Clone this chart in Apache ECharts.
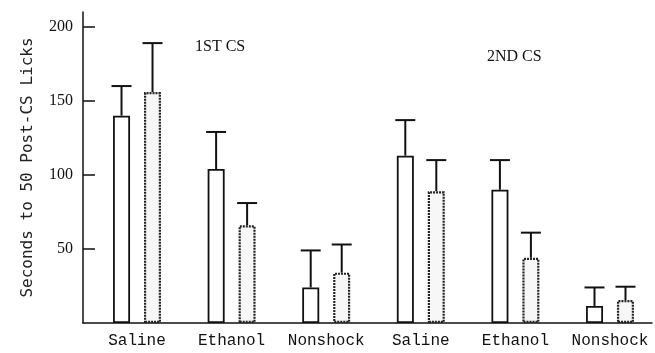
<!DOCTYPE html>
<html>
<head>
<meta charset="utf-8">
<script src="https://cdn.jsdelivr.net/npm/echarts@6/dist/echarts.min.js"></script>
<style>
html,body{margin:0;padding:0;background:#fff;}
#c{width:655px;height:353px;}
</style>
</head>
<body>
<div id="c"></div>
<script>
const categories = ['Saline', 'Ethanol', 'Nonshock', 'Saline', 'Ethanol', 'Nonshock'];
const openMeans = [140, 104, 24, 113, 90, 11.5];
const openErr = [20, 25, 25, 24, 20, 12.5];
const dottedMeans = [156, 66, 34, 89, 44, 15.5];
const dottedErr = [33, 15, 19, 21, 17, 9];
const yTicks = [50, 100, 150, 200];
const groupLabels = ['1ST CS', '2ND CS'];

const BAR_W = 17;
const HALF_SEP = 15.5; // half distance between paired bar centres (px)
const CAP_HALF = 10;

const chart = echarts.init(document.getElementById('c'));

function errSeries(means, errs, side) {
  return {
    type: 'custom',
    silent: true,
    z: 5,
    data: means.map((m, i) => [i, m, m + errs[i]]),
    renderItem: function (params, api) {
      const base = api.coord([api.value(0), api.value(1)]);
      const top = api.coord([api.value(0), api.value(2)]);
      const x = base[0] + side * HALF_SEP;
      const st = { stroke: '#111', lineWidth: 2 };
      return {
        type: 'group',
        children: [
          { type: 'line', shape: { x1: x, y1: base[1], x2: x, y2: top[1] }, style: st },
          { type: 'line', shape: { x1: x - CAP_HALF, y1: top[1], x2: x + CAP_HALF, y2: top[1] }, style: st }
        ]
      };
    }
  };
}

const option = {
  animation: false,
  backgroundColor: '#fff',
  grid: { left: 83, right: 3, top: 12, bottom: 30 },
  xAxis: {
    type: 'value',
    min: -0.571,
    max: 5.444,
    axisLine: { show: true, onZero: false, lineStyle: { color: '#111', width: 1.5 } },
    axisTick: { show: false },
    splitLine: { show: false },
    axisLabel: {
      customValues: categories.map((c, i) => i),
      formatter: v => categories[Math.round(v)] || '',
      fontFamily: 'Liberation Mono',
      fontSize: 16,
      color: '#111',
      margin: 10
    }
  },
  yAxis: {
    type: 'value',
    min: 0,
    max: 210,
    name: 'Seconds to 50 Post-CS Licks',
    nameLocation: 'middle',
    nameRotate: 90,
    nameGap: 47,
    nameTextStyle: { fontFamily: 'DejaVu Sans Mono', fontSize: 16, color: '#222' },
    axisLine: { show: true, onZero: false, lineStyle: { color: '#111', width: 1.5 } },
    axisTick: { show: true, inside: true, length: 12, customValues: yTicks, lineStyle: { color: '#111', width: 1.5 } },
    splitLine: { show: false },
    axisLabel: {
      customValues: yTicks,
      fontFamily: 'Liberation Serif',
      fontSize: 16,
      color: '#111',
      margin: 10
    }
  },
  series: [
    {
      type: 'bar',
      barWidth: BAR_W,
      barGap: '82%',
      data: openMeans.map((v, i) => [i, v]),
      itemStyle: { color: '#fff', borderColor: '#111', borderWidth: 1.8 }
    },
    {
      type: 'bar',
      barWidth: BAR_W,
      barGap: '82%',
      data: dottedMeans.map((v, i) => [i, v]),
      itemStyle: { color: '#f7f7f7', borderColor: '#222', borderWidth: 2.2, borderType: [2, 1] }
    },
    errSeries(openMeans, openErr, -1),
    errSeries(dottedMeans, dottedErr, 1)
  ],
  graphic: [
    { type: 'text', left: 195, top: 39, style: { text: groupLabels[0], font: '16px "Liberation Serif"', fill: '#111' } },
    { type: 'text', left: 487, top: 49, style: { text: groupLabels[1], font: '16px "Liberation Serif"', fill: '#111' } }
  ]
};
chart.setOption(option);
</script>
</body>
</html>
